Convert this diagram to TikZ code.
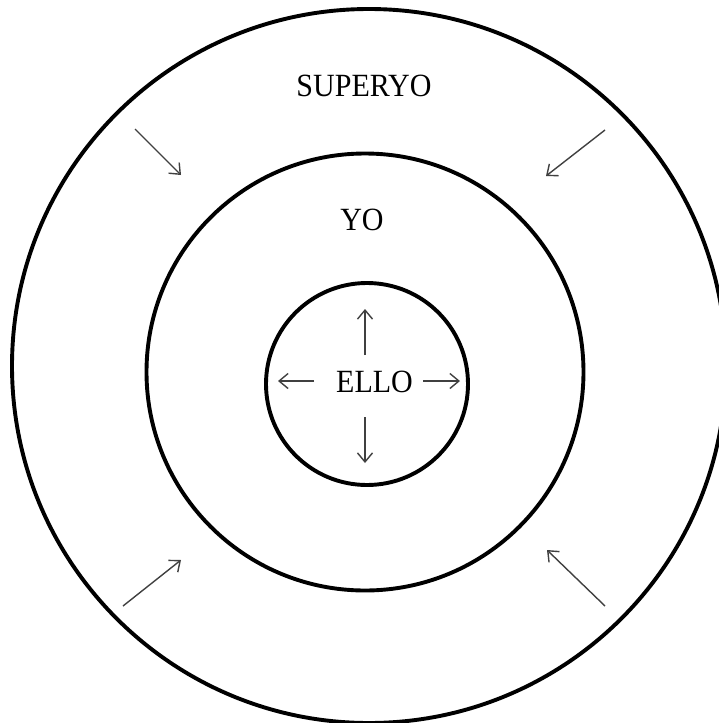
\documentclass[tikz,border=0pt]{standalone}
\usepackage{fontspec}
\setmainfont{Liberation Serif}
\usetikzlibrary{arrows.meta}
\begin{document}
\begin{tikzpicture}[x=1pt,y=-1pt,
  ring/.style={draw=black,line width=3.9pt},
  label/.style={font=\fontsize{30}{30}\selectfont,inner sep=0pt,text=black,yscale=1.08},
  push/.style={draw=black!75,line width=1.4pt,-{Straight Barb[length=9pt,width=15pt,line width=1.4pt]}}]
\useasboundingbox (0,0) rectangle (719,723);
% circles
\node[ring,circle,minimum size=714pt,inner sep=0pt] (outer) at (369,366) {};
\node[ring,circle,minimum size=437pt,inner sep=0pt] (middle) at (365,372) {};
\node[ring,circle,minimum size=202pt,inner sep=0pt] (inner) at (367,384) {};
% labels
\node[label] (superyo) at (364,86) {SUPERYO};
\node[label] (yo) at (362,220) {YO};
\node[label] (ello) at (374.5,382) {ELLO};
% arrow end points
\coordinate (u1) at (365,355); \coordinate (u2) at (365,309);
\coordinate (d1) at (365,417); \coordinate (d2) at (365,463);
\coordinate (l1) at (314,381); \coordinate (l2) at (278,381);
\coordinate (r1) at (423,381); \coordinate (r2) at (460,381);
\coordinate (tl1) at (135,129); \coordinate (tl2) at (181,175);
\coordinate (tr1) at (605,130); \coordinate (tr2) at (546,176);
\coordinate (bl1) at (123,606); \coordinate (bl2) at (181,560);
\coordinate (br1) at (605,606); \coordinate (br2) at (547,550);
\draw[push] (u1) -- (u2);
\draw[push] (d1) -- (d2);
\draw[push] (l1) -- (l2);
\draw[push] (r1) -- (r2);
\draw[push] (tl1) -- (tl2);
\draw[push] (tr1) -- (tr2);
\draw[push] (bl1) -- (bl2);
\draw[push] (br1) -- (br2);
\end{tikzpicture}
\end{document}
